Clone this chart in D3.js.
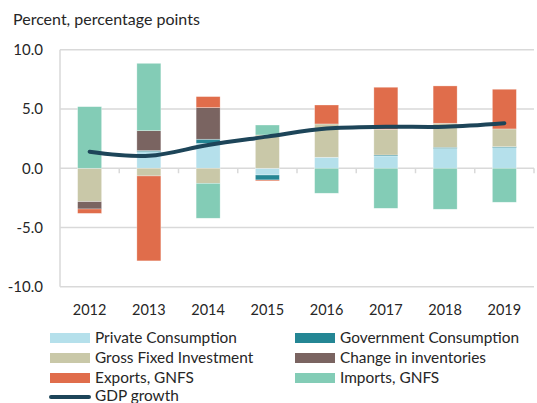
<!DOCTYPE html>
<html>
<head>
<meta charset="utf-8">
<script src="https://cdn.jsdelivr.net/npm/d3@7"></script>
<style>
  body { margin: 0; background: #fff; }
  svg text { font-family: Lato, "Open Sans", sans-serif; fill: #262626; }
</style>
</head>
<body>
<div id="chart"></div>
<script>
// chart data
const years = ['2012', '2013', '2014', '2015', '2016', '2017', '2018', '2019'];
const privateConsumption = [0, 1.4, 2.1, -0.57, 0.93, 1.04, 1.67, 1.74];
const governmentConsumption = [0, 0.1, 0.35, -0.42, 0, 0.08, 0.1, 0.08];
const grossFixedInvestment = [-2.82, -0.65, -1.27, 2.81, 2.81, 2.17, 2.03, 1.5];
const changeInInventories = [-0.62, 1.67, 2.67, 0, 0, 0, 0, 0];
const exportsGNFS = [-0.37, -7.17, 0.93, -0.08, 1.6, 3.55, 3.15, 3.35];
const importsGNFS = [5.2, 5.69, -2.95, 0.84, -2.11, -3.38, -3.46, -2.87];
const gdpGrowth = [1.4, 1.05, 1.97, 2.67, 3.35, 3.5, 3.5, 3.8];
const yTicks = [-10, -5, 0, 5, 10];

const series = [
  { key: 'pc', name: 'Private Consumption', values: privateConsumption, color: '#b5e0eb' },
  { key: 'gc', name: 'Government Consumption', values: governmentConsumption, color: '#248694' },
  { key: 'gfi', name: 'Gross Fixed Investment', values: grossFixedInvestment, color: '#c9c8a8' },
  { key: 'inv', name: 'Change in inventories', values: changeInInventories, color: '#7a6461' },
  { key: 'exp', name: 'Exports, GNFS', values: exportsGNFS, color: '#e06d4b' },
  { key: 'imp', name: 'Imports, GNFS', values: importsGNFS, color: '#83ccb6' }
];

const width = 537, height = 403;
const plot = { left: 60, right: 534, top: 49.8, bottom: 286.7 };

const svg = d3.select('#chart').append('svg')
  .attr('width', width)
  .attr('height', height);

const x = d3.scaleBand()
  .domain(years)
  .range([plot.left, plot.right])
  .paddingInner(0.595)
  .paddingOuter(0.2975);

const xOuter = d3.scaleBand().domain(years).range([plot.left, plot.right]);

const y = d3.scaleLinear()
  .domain([-10, 10])
  .range([plot.bottom, plot.top]);

// gridlines
svg.append('g')
  .selectAll('line')
  .data(yTicks)
  .join('line')
  .attr('x1', plot.left)
  .attr('x2', plot.right)
  .attr('y1', d => y(d))
  .attr('y2', d => y(d))
  .attr('stroke', '#d9d9d9')
  .attr('stroke-width', 1.5);

// y axis
svg.append('line')
  .attr('x1', plot.left).attr('x2', plot.left)
  .attr('y1', y(10)).attr('y2', y(-10))
  .attr('stroke', '#d9d9d9').attr('stroke-width', 1.5);

svg.append('g')
  .selectAll('text')
  .data(yTicks)
  .join('text')
  .attr('x', 43)
  .attr('y', d => y(d))
  .attr('dy', '0.35em')
  .attr('text-anchor', 'end')
  .style('font-size', '15px')
  .text(d => d.toFixed(1));

// category ticks on the zero line
svg.append('g')
  .selectAll('line')
  .data(years)
  .join('line')
  .attr('x1', d => xOuter(d) + xOuter.bandwidth())
  .attr('x2', d => xOuter(d) + xOuter.bandwidth())
  .attr('y1', y(0))
  .attr('y2', y(0) + 5)
  .attr('stroke', '#d9d9d9')
  .attr('stroke-width', 1.5);

// year labels
svg.append('g')
  .selectAll('text')
  .data(years)
  .join('text')
  .attr('x', d => x(d) + x.bandwidth() / 2)
  .attr('y', 315)
  .attr('text-anchor', 'middle')
  .style('font-size', '14.5px')
  .text(d => d);

// stacked bars
const table = years.map((yr, i) => {
  const row = { year: yr };
  series.forEach(s => { row[s.key] = s.values[i]; });
  return row;
});

const stack = d3.stack()
  .keys(series.map(s => s.key))
  .offset(d3.stackOffsetDiverging);

const layers = stack(table);

svg.append('g')
  .selectAll('g')
  .data(layers)
  .join('g')
  .attr('fill', (d, i) => series[i].color)
  .selectAll('rect')
  .data(d => d)
  .join('rect')
  .attr('x', d => x(d.data.year))
  .attr('width', x.bandwidth())
  .attr('y', d => y(Math.max(d[0], d[1])))
  .attr('height', d => Math.abs(y(d[0]) - y(d[1])))
  .attr('stroke', '#fff')
  .attr('stroke-opacity', 0.5)
  .attr('stroke-width', 0.6);

// GDP growth line
const line = d3.line()
  .x((d, i) => x(years[i]) + x.bandwidth() / 2)
  .y(d => y(d))
  .curve(d3.curveCatmullRom.alpha(0.5));

svg.append('path')
  .datum(gdpGrowth)
  .attr('d', line)
  .attr('fill', 'none')
  .attr('stroke', '#1d4559')
  .attr('stroke-width', 4)
  .attr('stroke-linecap', 'round');

// title
svg.append('text')
  .attr('x', 13)
  .attr('y', 25)
  .style('font-size', '16px')
  .text('Percent, percentage points');

// legend
const legendCols = [50, 295];
const legendRows = [338, 358, 378];
const legend = svg.append('g').style('font-size', '15.4px');
series.forEach((s, i) => {
  const lx = legendCols[i % 2];
  const ly = legendRows[Math.floor(i / 2)];
  legend.append('rect')
    .attr('x', lx).attr('y', ly - 5)
    .attr('width', 40).attr('height', 10)
    .attr('fill', s.color);
  legend.append('text')
    .attr('x', lx + 45).attr('y', ly)
    .attr('dy', '0.35em')
    .text(s.name);
});
legend.append('line')
  .attr('x1', 51).attr('x2', 89)
  .attr('y1', 397).attr('y2', 397)
  .attr('stroke', '#1d4559')
  .attr('stroke-width', 4)
  .attr('stroke-linecap', 'round');
legend.append('text')
  .attr('x', 95).attr('y', 396)
  .attr('dy', '0.35em')
  .text('GDP growth');
</script>
</body>
</html>
